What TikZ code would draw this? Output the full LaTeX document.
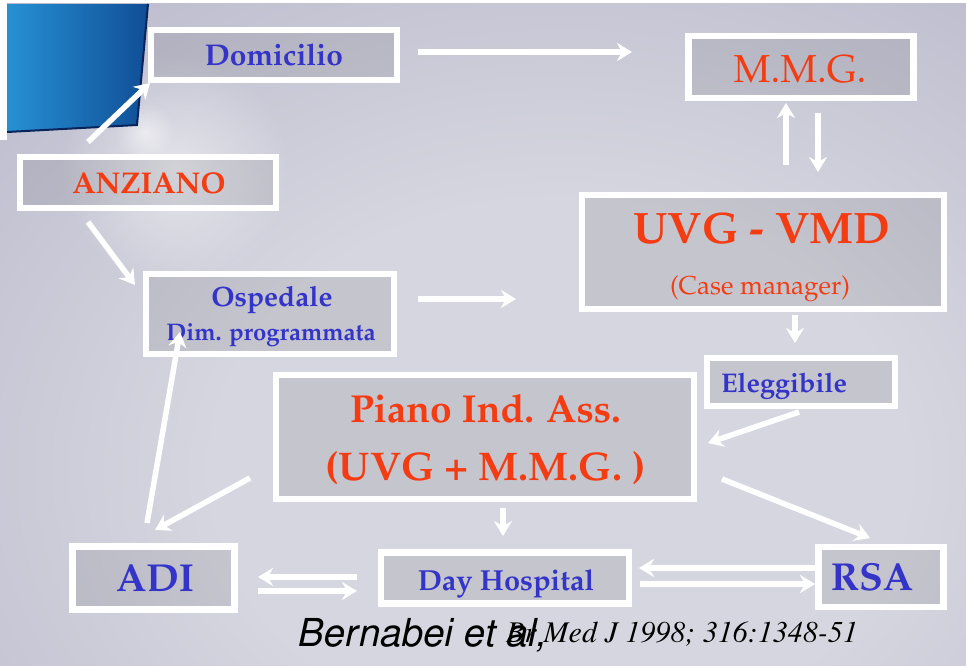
\documentclass[tikz,border=0pt]{standalone}
\usepackage[T1]{fontenc}
\usepackage{mathpazo}
\usetikzlibrary{arrows.meta,fadings}
\definecolor{bgA}{RGB}{150,148,177}
\definecolor{bgB}{RGB}{214,214,224}
\definecolor{blueA}{RGB}{38,145,212}
\definecolor{blueB}{RGB}{16,78,150}
\definecolor{blueC}{RGB}{8,36,90}
\definecolor{txtblue}{RGB}{52,52,200}
\definecolor{txtred}{RGB}{244,60,18}
\pgfdeclareradialshading{bgshade}{\pgfpoint{0bp}{0bp}}{color(0bp)=(bgB); color(12bp)=(bgB); color(50bp)=(bgA)}
\tikzfading[name=glowfade, inner color=transparent!0, outer color=transparent!100]
\tikzset{
  box/.style={draw=white, line width=6.5pt, fill=black, fill opacity=0.08, inner sep=0pt},
  lbl/.style={anchor=base, inner sep=0pt},
  bluebf/.style={lbl, text=txtblue, font=\bfseries},
  redbf/.style={lbl, text=txtred, font=\bfseries},
  redmd/.style={lbl, text=txtred},
  arr/.style={draw=white, line width=5.5pt, -{Stealth[length=15pt,width=18pt,inset=5pt]}},
}
\newcommand{\fs}[1]{\fontsize{#1}{#1}\selectfont}
\begin{document}
\begin{tikzpicture}[x=1pt,y=-1pt]
\useasboundingbox (0,0) rectangle (966,665);
% background
\fill[bgA] (0,0) rectangle (966,665);
\begin{scope}
  \clip (0,0) rectangle (966,665);
  \shade[shading=bgshade] (-160,-90) rectangle (1280,1030);
  \fill[white, opacity=0.5, path fading=glowfade] (175,170) circle (115);
  \fill[white, opacity=0.5, path fading=glowfade] (145,132) circle (30);
\end{scope}
% blue corner
\shade[left color=blueA, right color=blueB] (7,4) -- (148,4) -- (137,125) -- (7,132) -- cycle;
\draw[blueC, line width=2pt] (148,4) -- (137,125) -- (7,132);
\fill[white] (0,0) rectangle (7,140);
\fill[white] (0,0) rectangle (966,3);

% boxes
\node[box, minimum width=246, minimum height=50] (dom) at (274,55) {};
\node[box, minimum width=225, minimum height=62] (mmg) at (801,67) {};
\node[box, minimum width=362, minimum height=114] (uvg) at (763,252) {};
\node[box, minimum width=256, minimum height=51] (anz) at (148,182.5) {};
\node[box, minimum width=248, minimum height=80] (osp) at (270,314) {};
\node[box, minimum width=418, minimum height=124] (pia) at (485,437) {};
\node[box, minimum width=188, minimum height=48] (ele) at (801,382) {};
\node[box, minimum width=162, minimum height=63] (adi) at (153.5,578) {};
\node[box, minimum width=248, minimum height=51] (day) at (505,578) {};
\node[box, minimum width=125, minimum height=60] (rsa) at (881,577) {};

% labels
\node[bluebf, font=\bfseries\fs{30}] (tdom) at (274,65) {Domicilio};
\node[redmd, font=\fs{39}] (tmmg) at (800,82) {M.M.G.};
\node[redbf, font=\bfseries\fs{30}] (tanz) at (149,193) {ANZIANO};
\node[redbf, font=\bfseries\fs{44}] (tuvg) at (762,243) {UVG - VMD};
\node[redmd, font=\fs{26}] (tcase) at (760,294) {(Case manager)};
\node[bluebf, font=\bfseries\fs{28}] (tosp) at (272,306) {Ospedale};
\node[bluebf, font=\bfseries\fs{24}] (tdim) at (271,340) {Dim. programmata};
\node[bluebf, font=\bfseries\fs{27}] (tele) at (784,392) {Eleggibile};
\node[redbf, font=\bfseries\fs{39}] (tpia) at (485.5,422) {Piano Ind. Ass.};
\node[redbf, font=\bfseries\fs{40}] (tpia2) at (485.5,480) {(UVG + M.M.G. )};
\node[bluebf, font=\bfseries\fs{39}] (tadi) at (155,591) {ADI};
\node[bluebf, font=\bfseries\fs{29}] (tday) at (506,590) {Day Hospital};
\node[bluebf, font=\bfseries\fs{39}] (trsa) at (872,590) {RSA};
\node[lbl, anchor=base east, font=\fontfamily{ptm}\itshape\fs{30}] (tref) at (858,642) {Br Med J 1998; 316:1348-51};
\node[lbl, anchor=base west, font=\fontfamily{phv}\itshape\fs{38.5}] (tauth) at (296,646) {Bernabei et al,};

% connector end points
\coordinate (a1s) at (88,142);   \coordinate (a1e) at (150,83);
\coordinate (a2s) at (418,52);   \coordinate (a2e) at (632,52);
\coordinate (a3s) at (786,165);  \coordinate (a3e) at (786,103);
\coordinate (a4s) at (818,113);  \coordinate (a4e) at (818,172);
\coordinate (a5s) at (88,222);   \coordinate (a5e) at (135,285);
\coordinate (a6s) at (418,299);  \coordinate (a6e) at (516,299);
\coordinate (a7s) at (795,315);  \coordinate (a7e) at (795,343);
\coordinate (a8s) at (799,412);  \coordinate (a8e) at (708,443);
\coordinate (a9s) at (250,478);  \coordinate (a9e) at (155,530);
\coordinate (a10s) at (147,523); \coordinate (a10e) at (180,332);
\coordinate (a11s) at (503,508); \coordinate (a11e) at (503,536);
\coordinate (a12s) at (722,479); \coordinate (a12e) at (870,538);
\coordinate (a13s) at (357,577); \coordinate (a13e) at (258,577);
\coordinate (a14s) at (258,591); \coordinate (a14e) at (357,591);
\coordinate (a15s) at (815,568); \coordinate (a15e) at (639,568);
\coordinate (a16s) at (640,584); \coordinate (a16e) at (815,584);

\draw[arr] (a1s) -- (a1e);
\draw[arr] (a2s) -- (a2e);
\draw[arr] (a3s) -- (a3e);
\draw[arr] (a4s) -- (a4e);
\draw[arr] (a5s) -- (a5e);
\draw[arr] (a6s) -- (a6e);
\draw[arr] (a7s) -- (a7e);
\draw[arr] (a8s) -- (a8e);
\draw[arr] (a9s) -- (a9e);
\draw[arr] (a10s) -- (a10e);
\draw[arr] (a11s) -- (a11e);
\draw[arr] (a12s) -- (a12e);
\draw[arr] (a13s) -- (a13e);
\draw[arr] (a14s) -- (a14e);
\draw[arr] (a15s) -- (a15e);
\draw[arr] (a16s) -- (a16e);
\end{tikzpicture}
\end{document}
